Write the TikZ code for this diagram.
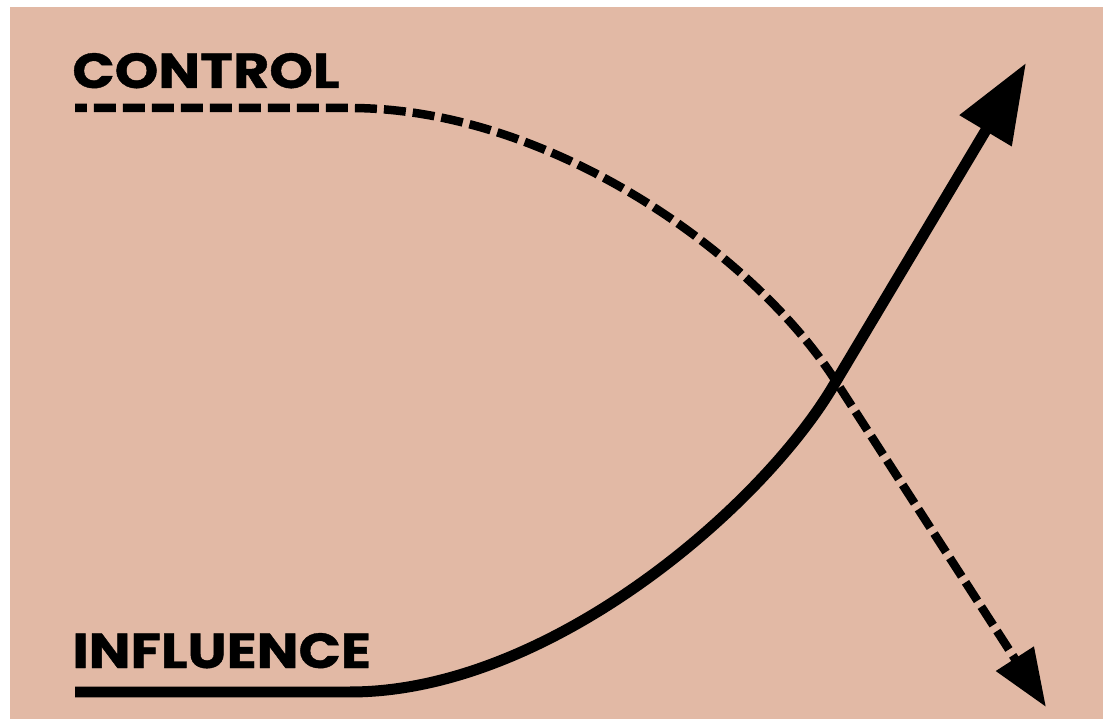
\documentclass[tikz,border=0pt]{standalone}
\usepackage{fontspec}
\setmainfont{Poppins}
\newfontfamily\labelfont{Poppins}[BoldFeatures={FakeBold=0.8}]
\usetikzlibrary{arrows.meta}
\definecolor{peach}{RGB}{226,185,165}

\begin{document}
\begin{tikzpicture}[
    x=0.02cm, y=-0.02cm,
    axislabel/.style={anchor=base west, inner sep=0pt, font=\fontsize{28}{28}\selectfont\labelfont\bfseries},
    influenceline/.style={draw, line width=0.22cm, -{Triangle[length=1.58cm, width=1.16cm]}},
    controlline/.style={draw, line width=0.17cm, dash pattern=on 0.44cm off 0.14cm, dash phase=0.2cm, -{Triangle[length=1.15cm, width=0.86cm]}}
]
\useasboundingbox (0,0) rectangle (1103,719);
\fill[white] (0,0) rectangle (1103,719);
\fill[peach] (10,7) rectangle (1103,719);

% labels
\node[axislabel] (control) at (72,88) {\scalebox{1.13}[1]{CONTROL}};
\node[axislabel] (influence) at (72,668) {\scalebox{1.13}[1]{INFLUENCE}};

% ends of the two curves
\coordinate (control start) at (75,108);
\coordinate (control bend) at (835,380);
\coordinate (control tip) at (1046,707);
\coordinate (influence start) at (75,692);
\coordinate (influence bend) at (835,383);
\coordinate (influence tip) at (1026,63);

% control falls
\draw[controlline] (control start) -- (350,108)
    .. controls (550,108) and (754,254) .. (control bend) -- (control tip);

% influence rises
\draw[influenceline] (influence start) -- (350,692)
    .. controls (550,692) and (765,504) .. (influence bend) -- (influence tip);
\end{tikzpicture}
\end{document}
